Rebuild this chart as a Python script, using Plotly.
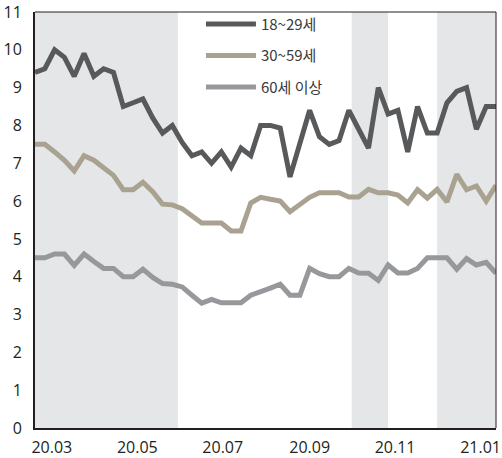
import pandas as pd
import plotly.graph_objects as go

# weekly observations
dates = pd.date_range("2020-02-18", periods=48, freq="7D")

age_18_29 = [9.4, 9.5, 10.0, 9.8, 9.3, 9.9, 9.3, 9.5, 9.4, 8.5,
             8.6, 8.7, 8.2, 7.8, 8.0, 7.55, 7.2, 7.3, 7.0, 7.3,
             6.9, 7.4, 7.2, 8.0, 8.0, 7.93, 6.64, 7.5, 8.4, 7.7,
             7.5, 7.6, 8.4, 7.9, 7.4, 9.0, 8.3, 8.4, 7.3, 8.5,
             7.8, 7.8, 8.6, 8.9, 9.0, 7.9, 8.5, 8.5]

age_30_59 = [7.5, 7.5, 7.3, 7.08, 6.8, 7.2, 7.08, 6.9, 6.68, 6.3,
             6.3, 6.5, 6.25, 5.92, 5.9, 5.8, 5.6, 5.42, 5.42, 5.42,
             5.21, 5.21, 5.95, 6.1, 6.05, 6.0, 5.72, 5.9, 6.1, 6.22,
             6.22, 6.22, 6.11, 6.11, 6.31, 6.22, 6.22, 6.16, 5.95, 6.3,
             6.08, 6.31, 5.98, 6.71, 6.3, 6.4, 6.0, 6.42]

age_60_plus = [4.5, 4.5, 4.6, 4.6, 4.3, 4.6, 4.4, 4.22, 4.22, 4.0,
               4.0, 4.2, 3.98, 3.82, 3.8, 3.73, 3.51, 3.3, 3.4, 3.31,
               3.31, 3.31, 3.51, 3.62, 3.7, 3.8, 3.51, 3.51, 4.22, 4.08,
               4.0, 4.0, 4.22, 4.1, 4.09, 3.9, 4.31, 4.1, 4.1, 4.22,
               4.5, 4.5, 4.5, 4.2, 4.48, 4.31, 4.38, 4.09]

series_names = ["18~29세", "30~59세", "60세 이상"]
series_values = [age_18_29, age_30_59, age_60_plus]
series_colors = ["#58595b", "#aaa291", "#97989b"]

shaded_periods = [("2020-02-18", "2020-05-30"),
                  ("2020-10-01", "2020-10-27"),
                  ("2020-12-01", "2021-01-12")]

x_start, x_end = "2020-02-18", "2021-01-12"

fig = go.Figure()
for i, (name, vals, col) in enumerate(zip(series_names, series_values, series_colors)):
    fig.add_trace(go.Scatter(
        x=dates, y=vals, mode="lines", name=name,
        line=dict(color=col, width=5),
        legendgroup=f"g{i}",
    ))

for a, b in shaded_periods:
    fig.add_shape(type="rect", xref="x", yref="paper", x0=a, x1=b, y0=0, y1=1,
                  fillcolor="#e5e6e8", line_width=0, layer="below")

# top and right frame lines
fig.add_shape(type="line", xref="paper", yref="paper", x0=0, x1=1, y0=1, y1=1,
              line=dict(color="#231f20", width=1))
fig.add_shape(type="line", xref="paper", yref="paper", x0=1, x1=1, y0=0, y1=1,
              line=dict(color="#231f20", width=1))

fig.update_layout(
    width=502, height=458,
    margin=dict(l=35, r=6, t=12, b=30),
    paper_bgcolor="white", plot_bgcolor="white",
    font=dict(family="Open Sans, Noto Sans CJK KR", size=16, color="#231f20"),
    showlegend=True,
    legend=dict(
        x=0.36, y=1.01, xanchor="left", yanchor="top",
        bgcolor="rgba(0,0,0,0)",
        font=dict(family="Noto Sans CJK KR", size=15, color="#3a3a3a"),
        traceorder="grouped", tracegroupgap=9, itemwidth=50,
    ),
    xaxis=dict(
        type="date", range=[x_start, x_end],
        tick0="2020-03-01", dtick="M2", tickformat="%y.%m",
        showgrid=False, zeroline=False, automargin=False,
        showline=True, linecolor="#231f20", linewidth=2,
        ticks="", ticklabelstandoff=4,
    ),
    yaxis=dict(
        range=[0, 11], dtick=1, showgrid=False, zeroline=False, automargin=False,
        showline=True, linecolor="#231f20", linewidth=2,
        ticks="", ticklabelstandoff=8,
    ),
)

fig.write_html("out.html")
